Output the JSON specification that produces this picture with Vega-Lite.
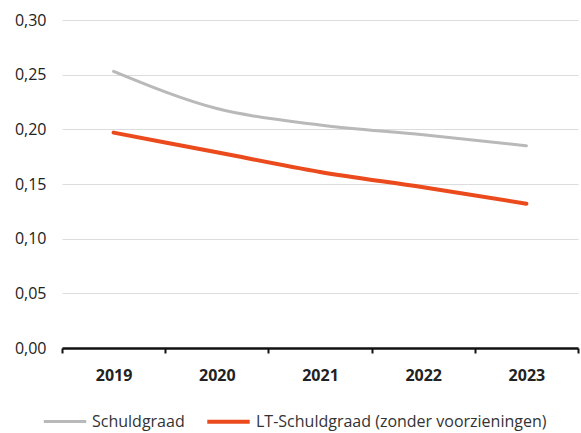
{
  "$schema": "https://vega.github.io/schema/vega-lite/v6.json",
  "width": 516,
  "height": 328,
  "autosize": {"type": "none"},
  "padding": {"left": 62, "top": 20, "right": 3, "bottom": 85},
  "background": "white",
  "config": {
    "locale": {"number": {"decimal": ",", "thousands": ".", "grouping": [3], "currency": ["€", ""]}},
    "view": {"stroke": null},
    "font": "Open Sans"
  },
  "data": {
    "values": [
      {"jaar": "2019", "reeks": "Schuldgraad", "waarde": 0.253},
      {"jaar": "2020", "reeks": "Schuldgraad", "waarde": 0.219},
      {"jaar": "2021", "reeks": "Schuldgraad", "waarde": 0.204},
      {"jaar": "2022", "reeks": "Schuldgraad", "waarde": 0.195},
      {"jaar": "2023", "reeks": "Schuldgraad", "waarde": 0.185},
      {"jaar": "2019", "reeks": "LT-Schuldgraad (zonder voorzieningen)", "waarde": 0.197},
      {"jaar": "2020", "reeks": "LT-Schuldgraad (zonder voorzieningen)", "waarde": 0.179},
      {"jaar": "2021", "reeks": "LT-Schuldgraad (zonder voorzieningen)", "waarde": 0.161},
      {"jaar": "2022", "reeks": "LT-Schuldgraad (zonder voorzieningen)", "waarde": 0.147},
      {"jaar": "2023", "reeks": "LT-Schuldgraad (zonder voorzieningen)", "waarde": 0.132}
    ]
  },
  "mark": {"type": "line", "interpolate": "monotone", "strokeCap": "round"},
  "encoding": {
    "x": {
      "field": "jaar", "type": "ordinal",
      "scale": {"type": "band", "paddingInner": 0, "paddingOuter": 0},
      "axis": {
        "title": null, "labelAngle": 0, "labelFontSize": 16, "labelFontWeight": "bold",
        "labelColor": "#222", "labelPadding": 14, "domainColor": "#111", "domainWidth": 2.5,
        "tickColor": "#111", "tickWidth": 2, "tickSize": 5, "tickBand": "extent", "grid": false
      }
    },
    "y": {
      "field": "waarde", "type": "quantitative",
      "scale": {"domain": [0, 0.3], "nice": false},
      "axis": {
        "title": null, "values": [0, 0.05, 0.1, 0.15, 0.2, 0.25, 0.3], "format": ".2f",
        "labelFontSize": 16, "labelColor": "#222", "labelPadding": 16,
        "domain": false, "ticks": false, "gridColor": "#dcdcdc", "gridWidth": 1.2
      }
    },
    "color": {
      "field": "reeks", "type": "nominal",
      "scale": {"domain": ["Schuldgraad", "LT-Schuldgraad (zonder voorzieningen)"], "range": ["#b9b9b9", "#ea4a1c"]},
      "legend": {
        "title": null, "orient": "none", "direction": "horizontal", "legendX": -20, "legendY": 378,
        "symbolType": "stroke", "symbolSize": 1800, "symbolStrokeWidth": 4,
        "labelFontSize": 16, "labelColor": "#333", "labelLimit": 400, "columnPadding": 14, "labelOffset": 4
      }
    },
    "strokeWidth": {
      "field": "reeks", "type": "nominal",
      "scale": {"domain": ["Schuldgraad", "LT-Schuldgraad (zonder voorzieningen)"], "range": [3, 4]},
      "legend": null
    }
  }
}
